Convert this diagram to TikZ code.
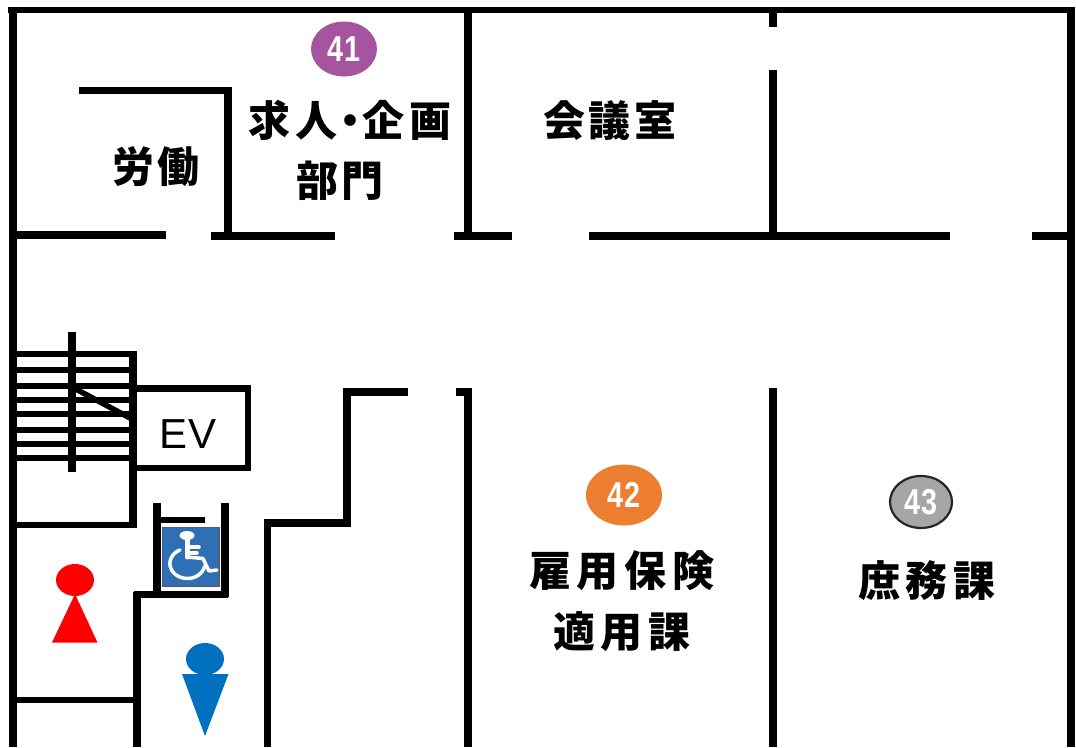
\documentclass[tikz,border=0pt]{standalone}
\usepackage{fontspec}
\setmainfont{Liberation Sans}
\newfontfamily\cjk{Noto Sans CJK JP}
\newfontfamily\evfont{Liberation Sans}
\newfontfamily\badgefont{Liberation Sans}[FakeStretch=0.8]
\definecolor{bpurple}{HTML}{A5559F}
\definecolor{borange}{HTML}{ED7D31}
\definecolor{bgray}{HTML}{A6A6A6}
\definecolor{sign}{HTML}{2F6FB5}
\definecolor{signedge}{HTML}{4A5F7A}
\definecolor{manblue}{HTML}{0070C0}
\usetikzlibrary{shapes.geometric}
\tikzset{
  wall/.style={line width=7.2pt,line cap=butt,line join=miter,black},
  thinwall/.style={line width=6.2pt,line cap=butt,line join=miter,black},
  label/.style={font=\cjk\bfseries\fontsize{42}{42}\selectfont,inner sep=0pt,black},
  badge/.style={ellipse,inner sep=0pt,font=\badgefont\bfseries\fontsize{36}{36}\selectfont,text=white},
  chair/.style={white,line width=3.5pt,line cap=round,line join=round}
}
\begin{document}
\begin{tikzpicture}[x=1pt,y=-1pt]
\useasboundingbox (0,0) rectangle (1076,747);
% outer walls
\draw[thinwall] (8,10.3) -- (1075,10.3);
\draw[line width=8pt,black] (12.5,7) -- (12.5,747);
\draw[line width=8pt,black] (1071,7) -- (1071,747);
% corridor wall, upper
\draw[line width=8pt,black] (12,235) -- (166,235);
\draw[wall] (211,236) -- (335,236);
\draw[wall] (454,236) -- (512,236);
\draw[wall] (589,236) -- (950,236);
\draw[wall] (1032,236) -- (1070,236);
% room partitions
\draw[wall] (468,10) -- (468,240);
\draw[wall] (773,10) -- (773,27);
\draw[wall] (773,70) -- (773,240);
\draw[wall] (79,90.5) -- (228,90.5) -- (228,236);
% stairs
\foreach \yy in {354,370,386,400,414,430,444,458}
  \draw[thinwall] (14,\yy) -- (133,\yy);
\draw[line width=8pt,black] (72,332) -- (72,472);
\draw[line width=5.5pt,black] (72,387) -- (130,418);
\draw[line width=8pt,black] (133,351) -- (133,528);
\draw[thinwall] (13,525) -- (136,525);
% EV
\draw[thinwall] (133,388.5) -- (248,388.5) -- (248,468) -- (133,468);
\node[inner sep=0pt,font=\evfont\fontsize{42}{42}\selectfont] (ev) at (188,434) {E\kern1pt V};
% accessible toilet
\draw[line width=7.6pt,black] (157,503) -- (157,596);
\draw[line width=8pt,black] (225,503) -- (225,597);
\draw[thinwall] (134,594.5) -- (228,594.5);
\draw[line width=7.4pt,black] (137,592) -- (137,747);
\draw[line width=5.5pt,black] (159,520) -- (205,520);
\draw[thinwall] (13,700) -- (137,700);
% sign
\draw[fill=sign,draw=signedge,line width=1.2pt] (162.5,527.5) rectangle (219,586);
\fill[white] (187,535.5) ellipse (7.5 and 4.5);
\draw[chair,line width=5pt] (187,540) -- (187,557);
\draw[chair] (187,557) -- (203,558.5) -- (209,571) -- (217,570);
\draw[chair] (187,547) -- (199,547);
\draw[chair] (187,553) -- (197,553);
\draw[chair] (180,549.9) arc[start angle=-115,end angle=-350,x radius=17.5,y radius=15];
% women / men
\fill[red] (75,580) ellipse (19 and 16);
\fill[red] (75,594) -- (97.5,642.5) -- (52,642.5) -- cycle;
\fill[manblue] (205,659) ellipse (19 and 16);
\fill[manblue] (182,674) -- (228.5,674) -- (205,736) -- cycle;
% corridor walls, lower
\draw[wall] (408,392) -- (347,392) -- (347,523) -- (267.5,523) -- (267.5,747);
\draw[wall] (456,392) -- (468,392) -- (468,747);
\draw[wall] (773,388) -- (773,747);
% badges
\node[badge,fill=bpurple,minimum width=66pt,minimum height=55pt] (b41) at (344,49) {41};
\node[badge,fill=borange,minimum width=76pt,minimum height=61pt] (b42) at (624,495) {42};
\node[badge,fill=bgray,draw=black!85,line width=2.2pt,minimum width=62pt,minimum height=52pt] (b43) at (921,502) {43};
% labels
\node[label] (t1) at (350,120) {求\kern6pt 人\kern-9pt ・\kern-9pt 企\kern6pt 画};
\node[label] (t2) at (340,181) {部\kern3pt 門};
\node[label] (t3) at (156,167) {労\kern4pt 働};
\node[label] (t4) at (610,121) {会\kern4pt 議\kern4pt 室};
\node[label] (t5) at (622,571) {雇\kern6pt 用\kern6pt 保\kern6pt 険};
\node[label] (t6) at (622,632) {適\kern6pt 用\kern6pt 課};
\node[label] (t7) at (927,581) {庶\kern6pt 務\kern6pt 課};
\end{tikzpicture}
\end{document}
